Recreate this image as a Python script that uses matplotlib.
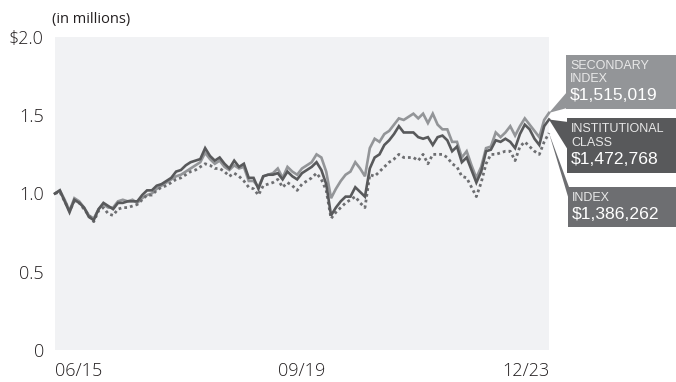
import matplotlib
matplotlib.use('Agg')
from matplotlib import pyplot as plt
from matplotlib.patches import Polygon, Rectangle

# growth of $1,000,000, monthly values (in millions)
months = list(range(103))
tick_positions = [0, 51, 102]
tick_labels = ['06/15', '09/19', '12/23']

institutional_class = [
    1.00, 1.02, 0.95, 0.88, 0.96, 0.94, 0.91, 0.85, 0.83, 0.90,
    0.94, 0.92, 0.90, 0.94, 0.94, 0.95, 0.95, 0.95, 0.99, 1.02,
    1.02, 1.05, 1.06, 1.08, 1.10, 1.14, 1.15, 1.18, 1.20, 1.21,
    1.22, 1.29, 1.24, 1.21, 1.23, 1.19, 1.16, 1.21, 1.17, 1.19,
    1.10, 1.10, 1.03, 1.11, 1.12, 1.12, 1.13, 1.09, 1.14, 1.11,
    1.09, 1.13, 1.15, 1.17, 1.20, 1.15, 1.06, 0.86, 0.91, 0.95,
    0.98, 0.98, 1.04, 1.01, 0.98, 1.16, 1.23, 1.25, 1.31, 1.34,
    1.38, 1.43, 1.39, 1.39, 1.39, 1.36, 1.35, 1.36, 1.31, 1.36,
    1.37, 1.34, 1.27, 1.30, 1.20, 1.23, 1.15, 1.07, 1.14, 1.27,
    1.28, 1.34, 1.33, 1.35, 1.33, 1.29, 1.38, 1.44, 1.41, 1.35,
    1.31, 1.43, 1.472768,
]

secondary_index = [
    1.00, 1.02, 0.96, 0.89, 0.97, 0.95, 0.91, 0.86, 0.84, 0.90,
    0.93, 0.91, 0.91, 0.95, 0.96, 0.95, 0.96, 0.94, 0.97, 0.99,
    1.00, 1.03, 1.05, 1.07, 1.09, 1.11, 1.12, 1.14, 1.16, 1.18,
    1.20, 1.26, 1.22, 1.19, 1.21, 1.17, 1.15, 1.18, 1.16, 1.17,
    1.08, 1.08, 1.04, 1.11, 1.12, 1.13, 1.16, 1.10, 1.17, 1.14,
    1.12, 1.16, 1.18, 1.20, 1.25, 1.23, 1.14, 0.97, 1.03, 1.08,
    1.12, 1.14, 1.20, 1.16, 1.11, 1.29, 1.35, 1.33, 1.38, 1.40,
    1.44, 1.48, 1.47, 1.49, 1.51, 1.48, 1.51, 1.45, 1.51, 1.44,
    1.41, 1.41, 1.33, 1.33, 1.23, 1.27, 1.18, 1.10, 1.17, 1.29,
    1.30, 1.39, 1.36, 1.39, 1.43, 1.37, 1.43, 1.48, 1.44, 1.40,
    1.36, 1.47, 1.515019,
]

index_values = [
    1.00, 1.01, 0.95, 0.89, 0.95, 0.94, 0.90, 0.86, 0.82, 0.89,
    0.91, 0.87, 0.86, 0.90, 0.91, 0.91, 0.92, 0.93, 0.96, 0.99,
    0.99, 1.02, 1.04, 1.05, 1.07, 1.09, 1.10, 1.12, 1.14, 1.15,
    1.17, 1.19, 1.18, 1.16, 1.16, 1.14, 1.11, 1.13, 1.11, 1.08,
    1.04, 1.03, 0.99, 1.05, 1.06, 1.07, 1.09, 1.04, 1.07, 1.05,
    1.02, 1.06, 1.08, 1.10, 1.13, 1.09, 1.02, 0.84, 0.88, 0.91,
    0.94, 0.96, 0.98, 0.94, 0.91, 1.12, 1.11, 1.14, 1.17, 1.20,
    1.22, 1.25, 1.23, 1.23, 1.23, 1.21, 1.25, 1.19, 1.25, 1.25,
    1.25, 1.23, 1.19, 1.17, 1.11, 1.10, 1.04, 0.98, 1.07, 1.19,
    1.25, 1.25, 1.26, 1.27, 1.27, 1.21, 1.30, 1.33, 1.30, 1.27,
    1.25, 1.33, 1.386262,
]

box_titles = ['SECONDARY\nINDEX', 'INSTITUTIONAL\nCLASS', 'INDEX']
box_values = ['$1,515,019', '$1,472,768', '$1,386,262']

W, H = 676, 382
DARK = '#58595b'
LIGHT = '#939598'
MID = '#6d6e71'

fig = plt.figure(figsize=(W / 100, H / 100), dpi=100)
ax = fig.add_axes([55 / W, 1 - 350 / H, (549 - 55) / W, (350 - 37) / H])
ax.set_facecolor('#f1f2f4')

ax.plot(months, secondary_index, color=LIGHT, linewidth=1.9, solid_joinstyle='miter', zorder=3, clip_on=False)
ax.plot(months, index_values, color=MID, linewidth=2.0, linestyle=(0, (1, 1.1)), zorder=4, clip_on=False)
ax.plot(months, institutional_class, color=DARK, linewidth=1.9, solid_joinstyle='miter', zorder=5, clip_on=False)

ax.set_xlim(0, 102)
ax.set_ylim(0, 2.0)
ax.set_yticks([0, 0.5, 1.0, 1.5, 2.0])
ax.set_yticklabels(['0', '0.5', '1.0', '1.5', '$2.0'])
ax.set_xticks(tick_positions)
ax.set_xticklabels(tick_labels)
for lbl, ha in zip(ax.get_xticklabels(), ['left', 'center', 'right']):
    lbl.set_horizontalalignment(ha)

ax.tick_params(length=0, labelsize=13, labelcolor='#231f20', pad=8)
ax.tick_params(axis='x', pad=9)
for lbl in ax.get_xticklabels() + ax.get_yticklabels():
    lbl.set_family('Open Sans')
    lbl.set_fontweight('light')

# eliminate the frame from the plot
for spine_name in ('top', 'right', 'bottom', 'left'):
    ax.spines[spine_name].set_visible(False)

fig.text(52 / W, 1 - 20 / H, '(in millions)', fontsize=10.5, family='Open Sans',
         color='#231f20', va='center', ha='left')


def px(x, y):
    # pixel position measured from the top left corner -> figure fraction
    return (x / W, 1 - y / H)


fig.canvas.draw()
to_px = ax.transData.transform

# label boxes on the right with wedges pointing at the line ends
boxes = [
    # (colour, box left, box top, box bottom, wedge base top, wedge base bottom, end value)
    (LIGHT, 566, 55, 109, 92, 108, secondary_index[-1]),
    (DARK, 567, 118, 173, 122, 150, institutional_class[-1]),
    (MID, 568, 187, 227, 187, 200, index_values[-1]),
]
for (color, left, top, bottom, wtop, wbottom, end_val), title, value in zip(boxes, box_titles, box_values):
    tip_x, tip_y = to_px((102, end_val))
    tip = (tip_x / W, tip_y / H)
    fig.patches.append(Polygon([tip, px(left + 1, wtop), px(left + 1, wbottom)], closed=True,
                               facecolor=color, edgecolor='none', transform=fig.transFigure, figure=fig))
    fig.patches.append(Rectangle(px(left, bottom), (W - left) / W, (bottom - top) / H,
                                 facecolor=color, edgecolor='none', transform=fig.transFigure, figure=fig))
    n_lines = title.count('\n') + 1
    for k, line in enumerate(title.split('\n')):
        fig.text(*px(left + 4, top + 11 + 13.5 * k), line, fontsize=9, family='Liberation Sans',
                 color='#e8e8e8', va='center', ha='left')
    fig.text(*px(left + 4, top + 13.5 * n_lines + 14), value, fontsize=12.6, family='Liberation Sans',
             color='white', va='center', ha='left')

plt.savefig('out.png', dpi=100)
